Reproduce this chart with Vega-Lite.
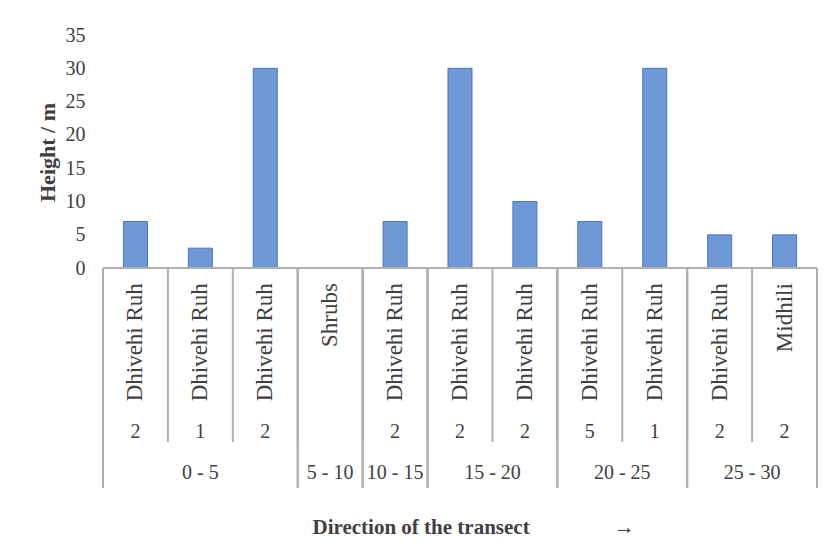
{
  "$schema": "https://vega.github.io/schema/vega-lite/v6.json",
  "description": "Tree heights along the transect, grouped by distance band.",
  "width": 714,
  "height": 453,
  "autosize": {"type": "none"},
  "padding": {"left": 103, "top": 35, "right": 8, "bottom": 54},
  "background": "white",
  "config": {
    "view": {"stroke": null},
    "font": "Liberation Serif",
    "axis": {"grid": false}
  },
  "data": {
    "values": [
      {"plot": 1, "species": "Dhivehi Ruh", "count": 2, "range": "0 - 5", "height": 7},
      {"plot": 2, "species": "Dhivehi Ruh", "count": 1, "range": "0 - 5", "height": 3},
      {"plot": 3, "species": "Dhivehi Ruh", "count": 2, "range": "0 - 5", "height": 30},
      {"plot": 4, "species": "Shrubs", "count": null, "range": "5 - 10", "height": null},
      {"plot": 5, "species": "Dhivehi Ruh", "count": 2, "range": "10 - 15", "height": 7},
      {"plot": 6, "species": "Dhivehi Ruh", "count": 2, "range": "15 - 20", "height": 30},
      {"plot": 7, "species": "Dhivehi Ruh", "count": 2, "range": "15 - 20", "height": 10},
      {"plot": 8, "species": "Dhivehi Ruh", "count": 5, "range": "20 - 25", "height": 7},
      {"plot": 9, "species": "Dhivehi Ruh", "count": 1, "range": "20 - 25", "height": 30},
      {"plot": 10, "species": "Dhivehi Ruh", "count": 2, "range": "25 - 30", "height": 5},
      {"plot": 11, "species": "Midhili", "count": 2, "range": "25 - 30", "height": 5}
    ]
  },
  "layer": [
    {
      "mark": {"type": "bar", "width": {"band": 0.37}, "color": "#6e98d6", "stroke": "#4a78bf", "strokeWidth": 1},
      "encoding": {
        "x": {
          "field": "plot",
          "type": "ordinal",
          "scale": {"paddingInner": 0, "paddingOuter": 0},
          "axis": {
            "title": "Direction of the transect\u00a0\u00a0\u00a0\u00a0\u00a0\u00a0\u00a0\u00a0\u00a0\u00a0\u00a0\u00a0\u00a0\u00a0\u00a0\u00a0→",
            "labels": false,
            "ticks": false,
            "domain": false,
            "titleFont": "Liberation Serif",
            "titleFontSize": 21,
            "titleFontWeight": "bold",
            "titleColor": "#404040",
            "titleX": 209,
            "titleY": 39,
            "titleAlign": "left",
            "titleBaseline": "middle"
          }
        },
        "y": {
          "field": "height",
          "type": "quantitative",
          "scale": {"domain": [-33, 35], "nice": false},
          "axis": {
            "values": [0, 5, 10, 15, 20, 25, 30, 35],
            "title": "Height / m",
            "domain": false,
            "ticks": false,
            "labelFontSize": 20,
            "labelPadding": 18,
            "labelColor": "#404040",
            "titleFontSize": 22,
            "titleFontWeight": "bold",
            "titleColor": "#404040",
            "titleX": -56,
            "titleY": 117,
            "titleAngle": 270,
            "titleAlign": "center",
            "titleBaseline": "middle"
          }
        }
      }
    },
    {
      "mark": {"type": "rule", "color": "#b0b0b0", "strokeWidth": 1.5},
      "encoding": {"y": {"datum": 0}}
    },
    {
      "mark": {"type": "rule", "color": "#b0b0b0", "strokeWidth": 2},
      "encoding": {
        "x": {"field": "plot", "type": "ordinal", "bandPosition": 0},
        "y": {"datum": 0},
        "y2": {"datum": -26.1}
      }
    },
    {
      "mark": {"type": "text", "angle": 270, "align": "right", "baseline": "middle", "fontSize": 23, "color": "#404040"},
      "encoding": {
        "x": {"field": "plot", "type": "ordinal"},
        "y": {"datum": -2.25},
        "text": {"field": "species"}
      }
    },
    {
      "transform": [{"filter": "isValid(datum.count)"}],
      "mark": {"type": "text", "baseline": "middle", "fontSize": 20, "color": "#404040"},
      "encoding": {
        "x": {"field": "plot", "type": "ordinal"},
        "y": {"datum": -24.6},
        "text": {"field": "count", "type": "quantitative"}
      }
    },
    {
      "transform": [
        {
          "aggregate": [
            {"op": "min", "field": "plot", "as": "first"},
            {"op": "max", "field": "plot", "as": "last"},
            {"op": "median", "field": "plot", "as": "mid"},
            {"op": "count", "as": "n"}
          ],
          "groupby": ["range"]
        }
      ],
      "layer": [
        {
          "mark": {"type": "rule", "color": "#b0b0b0", "strokeWidth": 2},
          "encoding": {
            "x": {"field": "first", "type": "ordinal", "bandPosition": 0},
            "y": {"datum": 0},
            "y2": {"datum": -33}
          }
        },
        {
          "mark": {"type": "rule", "color": "#b0b0b0", "strokeWidth": 2},
          "encoding": {
            "x": {"field": "last", "type": "ordinal", "bandPosition": 1},
            "y": {"datum": 0},
            "y2": {"datum": -33}
          }
        },
        {
          "transform": [{"filter": "datum.n % 2 == 1"}],
          "mark": {"type": "text", "baseline": "middle", "fontSize": 20, "color": "#404040"},
          "encoding": {
            "x": {"field": "mid", "type": "ordinal"},
            "y": {"datum": -30.7},
            "text": {"field": "range"}
          }
        },
        {
          "transform": [{"filter": "datum.n % 2 == 0"}],
          "mark": {"type": "text", "baseline": "middle", "fontSize": 20, "color": "#404040"},
          "encoding": {
            "x": {"field": "first", "type": "ordinal", "bandPosition": 1},
            "y": {"datum": -30.7},
            "text": {"field": "range"}
          }
        }
      ]
    }
  ]
}
